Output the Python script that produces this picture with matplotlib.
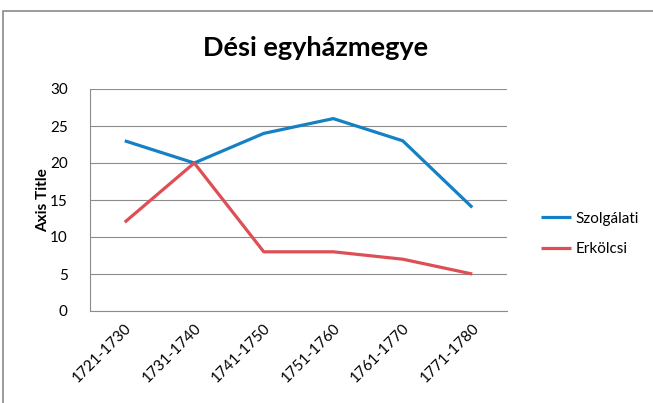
import matplotlib.pyplot as plt
from matplotlib.patches import Rectangle

plt.rcParams['font.family'] = ['Lato', 'DejaVu Sans']

periods = ['1721-1730', '1731-1740', '1741-1750', '1751-1760', '1761-1770', '1771-1780']
szolgalati = [23, 20, 24, 26, 23, 14]
erkolcsi = [12, 20, 8, 8, 7, 5]

BLUE = '#1580C4'
RED = '#DE4F55'
GRID = '#8C8C8C'

fig = plt.figure(figsize=(6.53, 4.03), dpi=100)
fig.patches.append(Rectangle((3 / 653, -0.1), 2, 1 - 11 / 403 + 0.1, transform=fig.transFigure,
                             fill=False, edgecolor='#8A8A8A', linewidth=1.2))

ax = fig.add_axes([90 / 653, 1 - 311 / 403, 417 / 653, 222 / 403])
x = list(range(len(periods)))
ax.plot(x, szolgalati, color=BLUE, linewidth=2.3, label='Szolgálati', solid_capstyle='butt')
ax.plot(x, erkolcsi, color=RED, linewidth=2.3, label='Erkölcsi', solid_capstyle='butt')

ax.set_xlim(-0.5, len(periods) - 0.5)
ax.set_ylim(0, 30)
ax.set_yticks(range(0, 31, 5))
ax.set_xticks(x)
ax.set_xticklabels(periods, rotation=45, ha='right', rotation_mode='anchor', fontsize=11)
ax.tick_params(axis='y', labelsize=11, length=0, pad=16)
ax.tick_params(axis='x', length=0, pad=7)
ax.grid(axis='y', color=GRID, linewidth=0.8)
ax.set_axisbelow(True)
for side in ['top', 'right']:
    ax.spines[side].set_visible(False)
for side in ['left', 'bottom']:
    ax.spines[side].set_color(GRID)
    ax.spines[side].set_linewidth(0.8)

ax.set_ylabel('Axis Title', fontsize=11, fontweight='bold', labelpad=0)
fig.text(316 / 653, 1 - 48 / 403, 'Dési egyházmegye', ha='center', va='center',
         fontsize=19.5, fontweight='bold')

ax.legend(loc='center left', bbox_to_anchor=(527 / 653, 1 - 234 / 403),
          bbox_transform=fig.transFigure, frameon=False, fontsize=11,
          handlelength=2.0, handletextpad=0.3, labelspacing=1.1)

fig.savefig('out.png', dpi=100)
